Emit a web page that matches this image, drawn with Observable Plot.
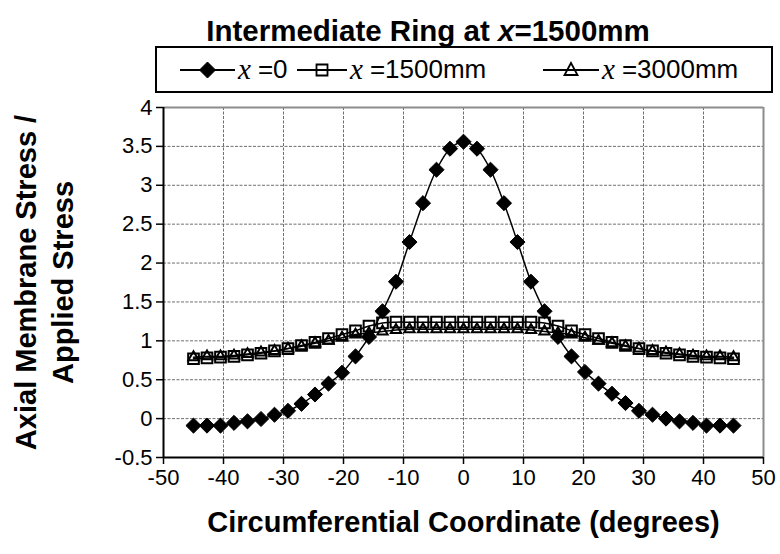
<!DOCTYPE html>
<html>
<head>
<meta charset="utf-8">
<script src="https://cdn.jsdelivr.net/npm/d3@7"></script>
<script src="https://cdn.jsdelivr.net/npm/@observablehq/plot@0.6"></script>
<style>
  body { margin: 0; background: white; font-family: "Liberation Sans", Arial, sans-serif; }
  #wrap { position: relative; width: 780px; height: 554px; overflow: hidden; }
  #header { position: relative; width: 780px; height: 90px; }
  #title { position: absolute; left: 428px; top: 16px; transform: translateX(-50%); white-space: nowrap;
           font-weight: bold; font-size: 29.5px; line-height: 29.5px; color: #000; }
  #legend { position: absolute; left: 155px; top: 46px; width: 614px; height: 43px; border: 2px solid #000; }
  .item { position: absolute; top: 0; height: 43px; display: flex; align-items: center; white-space: nowrap; }
  .item svg { display: block; }
  .vx { font-family: "Liberation Serif", "Times New Roman", serif; font-style: italic; font-size: 29px; margin-left: 3px; }
  .lt { font-size: 26px; margin-left: 7px; }
</style>
</head>
<body>
<div id="wrap">
  <div id="header">
    <div id="title">Intermediate Ring at <i>x</i>=1500mm</div>
    <div id="legend"></div>
  </div>
  <div id="chart"></div>
</div>
<script>
// ---- data ----
const angles = [-45, -42.75, -40.5, -38.25, -36, -33.75, -31.5, -29.25, -27, -24.75, -22.5, -20.25, -18, -15.75, -13.5, -11.25, -9, -6.75, -4.5, -2.25, 0, 2.25, 4.5, 6.75, 9, 11.25, 13.5, 15.75, 18, 20.25, 22.5, 24.75, 27, 29.25, 31.5, 33.75, 36, 38.25, 40.5, 42.75, 45];
const stressX0 = [-0.09, -0.09, -0.09, -0.055, -0.035, -0.005, 0.05, 0.10, 0.19, 0.31, 0.45, 0.59, 0.80, 1.05, 1.38, 1.76, 2.27, 2.77, 3.20, 3.47, 3.56, 3.47, 3.20, 2.77, 2.27, 1.76, 1.38, 1.05, 0.80, 0.60, 0.45, 0.32, 0.20, 0.10, 0.05, 0.00, -0.035, -0.055, -0.09, -0.09, -0.09];
const stressX1500 = [0.77, 0.78, 0.79, 0.80, 0.82, 0.84, 0.87, 0.90, 0.94, 0.98, 1.03, 1.08, 1.13, 1.19, 1.23, 1.24, 1.24, 1.24, 1.24, 1.24, 1.24, 1.24, 1.24, 1.24, 1.24, 1.24, 1.23, 1.19, 1.13, 1.08, 1.03, 0.98, 0.94, 0.90, 0.87, 0.84, 0.82, 0.80, 0.79, 0.78, 0.77];
const stressX3000 = [0.79, 0.80, 0.80, 0.81, 0.83, 0.85, 0.87, 0.90, 0.93, 0.97, 1.00, 1.04, 1.08, 1.10, 1.12, 1.14, 1.15, 1.15, 1.15, 1.15, 1.15, 1.15, 1.15, 1.15, 1.15, 1.14, 1.12, 1.10, 1.08, 1.04, 1.00, 0.97, 0.93, 0.90, 0.87, 0.85, 0.83, 0.81, 0.80, 0.80, 0.79];
const seriesNames = ["=0", "=1500mm", "=3000mm"];
const xTicks = [-50, -40, -30, -20, -10, 0, 10, 20, 30, 40, 50];
const yTicks = [-0.5, 0, 0.5, 1, 1.5, 2, 2.5, 3, 3.5, 4];
const xTitle = "Circumferential Coordinate (degrees)";
const yTitle = ["Axial Membrane Stress /", "Applied Stress"];

const d0 = angles.map((a, i) => ({a, v: stressX0[i]}));
const d1 = angles.map((a, i) => ({a, v: stressX1500[i]}));
const d2 = angles.map((a, i) => ({a, v: stressX3000[i]}));

const grid = "#6f6f6f";
const chart = Plot.plot({
  width: 780,
  height: 464,
  marginLeft: 163,
  marginRight: 17,
  marginTop: 17,
  marginBottom: 97,
  style: {fontFamily: "'Liberation Sans', Arial, sans-serif", fontSize: "22px", background: "white", color: "#000"},
  x: {domain: [-50, 50], label: null},
  y: {domain: [-0.5, 4], label: null},
  marks: [
    Plot.gridX(xTicks, {stroke: grid, strokeOpacity: 1, strokeDasharray: "3,1.5", strokeWidth: 1}),
    Plot.gridY(yTicks, {stroke: grid, strokeOpacity: 1, strokeDasharray: "3,1.5", strokeWidth: 1}),
    Plot.ruleY([4], {stroke: "#8c8c8c", strokeWidth: 2}),
    Plot.ruleX([50], {stroke: "#8c8c8c", strokeWidth: 2}),
    Plot.axisX({ticks: xTicks, tickSize: 7, tickPadding: 5, fontSize: 22, strokeWidth: 1.5, tickFormat: d => String(d), label: null}),
    Plot.axisY({ticks: yTicks, tickSize: 7, tickPadding: 4, fontSize: 22, strokeWidth: 1.5, tickFormat: d => String(d), label: null}),
    Plot.ruleX([-50], {stroke: "#000", strokeWidth: 2}),
    Plot.ruleY([-0.5], {stroke: "#000", strokeWidth: 2}),
    Plot.line(d0, {x: "a", y: "v", curve: "catmull-rom", stroke: "#000", strokeWidth: 1.5}),
    Plot.line(d1, {x: "a", y: "v", curve: "catmull-rom", stroke: "#000", strokeWidth: 1.5}),
    Plot.line(d2, {x: "a", y: "v", curve: "catmull-rom", stroke: "#000", strokeWidth: 1.5}),
    Plot.dot(d0, {x: "a", y: "v", symbol: "diamond2", r: 6.8, fill: "#000", stroke: "#000", strokeWidth: 1}),
    Plot.dot(d1, {x: "a", y: "v", symbol: "square2", r: 6.8, fill: "none", stroke: "#000", strokeWidth: 2}),
    Plot.dot(d2, {x: "a", y: "v", symbol: "triangle2", r: 4.9, fill: "none", stroke: "#000", strokeWidth: 2}),
    Plot.text([xTitle], {frameAnchor: "bottom", dy: 65, fontSize: 29, fontWeight: "bold", textAnchor: "middle", lineAnchor: "middle"}),
    Plot.text([yTitle[0]], {frameAnchor: "left", dx: -137, rotate: -90, fontSize: 29, fontWeight: "bold", textAnchor: "middle", lineAnchor: "middle"}),
    Plot.text([yTitle[1]], {frameAnchor: "left", dx: -100, rotate: -90, fontSize: 29, fontWeight: "bold", textAnchor: "middle", lineAnchor: "middle"})
  ]
});
document.getElementById("chart").appendChild(chart);

// ---- legend ----
const legend = document.getElementById("legend");
const symbols = ["diamond", "square", "triangle"];
const lefts = [23, 140, 386];
const lineLens = [55, 50, 56];
function symSvg(kind, w) {
  const ns = "http://www.w3.org/2000/svg";
  const s = document.createElementNS(ns, "svg");
  s.setAttribute("width", w); s.setAttribute("height", 20);
  const l = document.createElementNS(ns, "line");
  l.setAttribute("x1", 0); l.setAttribute("x2", w); l.setAttribute("y1", 10); l.setAttribute("y2", 10);
  l.setAttribute("stroke", "#000"); l.setAttribute("stroke-width", 2);
  s.appendChild(l);
  const c = w / 2;
  const p = document.createElementNS(ns, "path");
  let d;
  if (kind === "diamond") d = `M${c},2L${c + 8},10L${c},18L${c - 8},10Z`;
  else if (kind === "square") d = `M${c - 5.5},4.5H${c + 5.5}V15.5H${c - 5.5}Z`;
  else d = `M${c},3L${c + 6.5},15H${c - 6.5}Z`;
  p.setAttribute("d", d);
  p.setAttribute("fill", kind === "diamond" ? "#000" : "none");
  p.setAttribute("stroke", "#000"); p.setAttribute("stroke-width", kind === "diamond" ? 1 : 1.8);
  s.appendChild(p);
  return s;
}
seriesNames.forEach((name, i) => {
  const it = document.createElement("div");
  it.className = "item";
  it.style.left = lefts[i] + "px";
  it.appendChild(symSvg(symbols[i], lineLens[i]));
  const vx = document.createElement("span"); vx.className = "vx"; vx.textContent = "x";
  const lt = document.createElement("span"); lt.className = "lt"; lt.textContent = name;
  it.appendChild(vx); it.appendChild(lt);
  legend.appendChild(it);
});
</script>
</body>
</html>
